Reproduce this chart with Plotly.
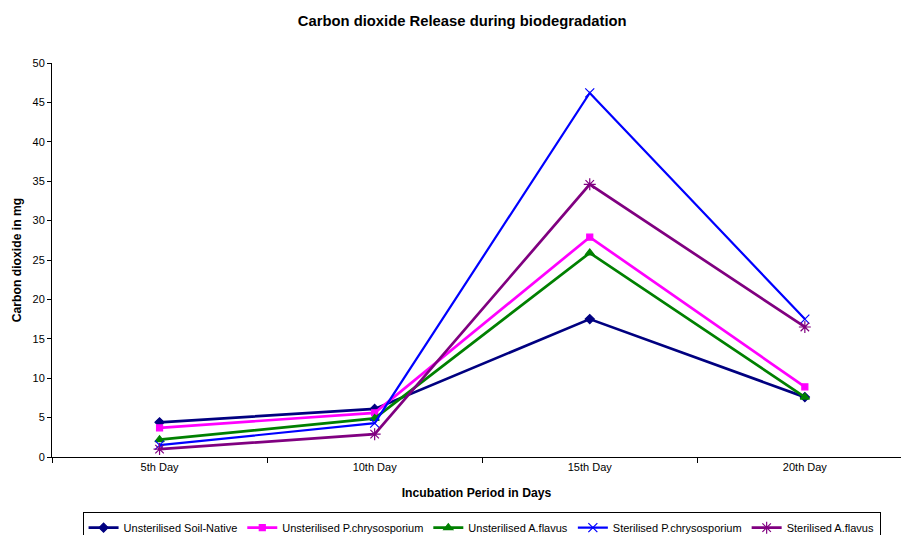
import plotly.graph_objects as go

days = ["5th Day", "10th Day", "15th Day", "20th Day"]
soil_native = [4.4, 6.1, 17.5, 7.6]
unster_pchry = [3.7, 5.6, 27.9, 8.9]
unster_aflavus = [2.2, 4.9, 25.9, 7.6]
ster_pchry = [1.5, 4.3, 46.2, 17.5]
ster_aflavus = [1.0, 2.9, 34.6, 16.5]

series = [
    ("Unsterilised Soil-Native", soil_native, "#000080", "diamond", 7, 2.7),
    ("Unsterilised P.chrysosporium", unster_pchry, "#FF00FF", "square", 6, 2.7),
    ("Unsterilised A.flavus", unster_aflavus, "#008000", "triangle-up", 8, 2.7),
    ("Sterilised P.chrysosporium", ster_pchry, "#0000FF", "x-thin-open", 9, 2.2),
    ("Sterilised A.flavus", ster_aflavus, "#800080", "asterisk-open", 10, 2.7),
]

fig = go.Figure()
for name, vals, color, sym, size, lw in series:
    fig.add_trace(go.Scatter(
        x=days, y=vals, name=name, mode="lines+markers",
        line=dict(color=color, width=lw),
        marker=dict(symbol=sym, size=size, color=color,
                    line=dict(color=color, width=1.2)),
    ))

fig.update_layout(
    width=901, height=535,
    margin=dict(l=52, r=0, t=63, b=78, autoexpand=False),
    paper_bgcolor="white", plot_bgcolor="white",
    font=dict(family="Arial, Liberation Sans, sans-serif", size=11, color="black"),
    title=dict(text="<b>Carbon dioxide Release during biodegradation</b>",
               x=0.513, xanchor="center", y=0.962, yanchor="middle",
               font=dict(size=14.8)),
    xaxis=dict(type="category", range=[-0.5, 3.447], tickson="boundaries",
               ticks="outside", ticklen=5, tickcolor="black",
               showline=True, linecolor="black", linewidth=1,
               showgrid=False, zeroline=False,
               title=dict(text="<b>Incubation Period in Days</b>", font=dict(size=12.2),
                          standoff=16)),
    yaxis=dict(range=[0, 50], dtick=5, ticks="outside", ticklen=4, tickcolor="black",
               showline=True, linecolor="black", linewidth=1,
               showgrid=False, zeroline=False,
               title=dict(text="<b>Carbon dioxide in mg</b>", font=dict(size=12.2),
                          standoff=8)),
    legend=dict(orientation="h", x=0.036, xanchor="left", y=-0.14, yanchor="top",
                bordercolor="black", borderwidth=1, font=dict(size=11),
                itemwidth=30, tracegroupgap=0),
    showlegend=True,
)

fig.write_html("out.html")
